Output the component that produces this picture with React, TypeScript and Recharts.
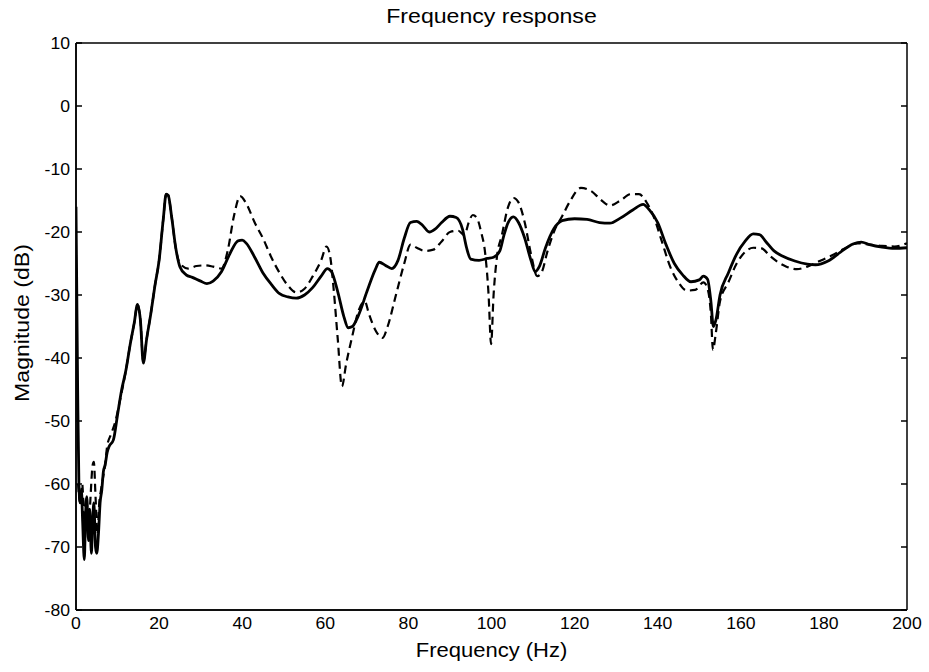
import React from "react";
import { LineChart, Line, XAxis, YAxis } from "recharts";

// measured trace (solid)
const FREQ_SOLID = [
  0, 0.4, 0.7, 1.0, 1.3, 1.6, 2.0, 2.3, 2.6, 3.0, 3.3, 3.7, 4.0, 4.3, 4.7, 5.0, 5.4, 5.8, 6.2, 6.6, 7.0, 7.5, 8.0, 9.0,
  10, 11, 12, 13, 14, 14.8, 15.5, 16.2, 17, 18, 19, 20, 21, 21.7, 22.2, 23, 24, 25, 26.5, 28, 30, 31.5, 33, 35, 37, 39,
  40, 41, 43, 45, 47, 49, 51, 53, 55, 57, 59, 60.5, 61.5, 63, 64.5, 65.5, 66.5, 68, 70, 72, 73, 74.5, 76, 77.5, 79,
  80.5, 82, 83.5, 85, 86.5, 88, 90, 91.5, 93, 94, 95, 97, 99, 100.5, 102, 103, 104, 105.3, 106.5, 108, 109.5, 110.5,
  111.5, 113, 115, 117, 120, 123, 126, 128.5, 131, 134, 136.5, 138, 140, 142, 144, 146, 148, 150, 151, 152, 152.8,
  153.4, 154, 155, 157, 159, 161, 163, 164.5, 166, 168, 170, 173, 176, 178, 181, 184, 187, 189, 191, 194, 197, 200,
];
const MAG_SOLID = [
  -16, -45, -60, -63, -61, -66, -72, -65, -62, -69, -64, -71, -66, -63, -70, -71, -68, -63, -61, -58, -57, -55, -54, -53,
  -49, -45, -42, -38, -34.5, -31.5, -34, -40.8, -37, -33, -28.5, -24.5, -18, -14, -14.2, -17.5, -22.5, -25.5, -26.8,
  -27.2, -27.8, -28.2, -27.8, -26.3, -23.5, -21.4, -21.3, -21.8, -24, -26.5, -28.3, -29.8, -30.3, -30.5, -30, -28.8,
  -27, -25.8, -26.3, -29.5, -33.5, -35.2, -35, -33.2, -29.5, -26, -24.8, -25.3, -25.8, -24.5, -21, -18.5, -18.3, -19,
  -20, -19.5, -18.5, -17.5, -17.7, -19.5, -22.5, -24.3, -24.5, -24.2, -24, -23, -20.5, -18.5, -17.6, -18.5, -21, -24.5,
  -26.3, -25.5, -22.5, -19.5, -18.2, -17.9, -18, -18.5, -18.6, -17.8, -16.5, -15.6, -16.5, -18.5, -22, -25, -26.8,
  -27.9, -27.6, -27, -27.5, -31, -35, -34, -30, -26.5, -23.5, -21.5, -20.3, -20.4, -21.5, -23, -23.8, -24.6, -25.1,
  -25.2, -24.6, -23.2, -21.9, -21.6, -22, -22.4, -22.6, -22.5,
];

// model trace (dashed)
const FREQ_DASHED = [
  0.5, 1.0, 1.5, 2.0, 2.5, 3.0, 3.5, 4.0, 4.3, 4.7, 5.2, 5.6, 6.0, 6.5, 7.0, 7.5, 8.5, 9.5, 10.5, 12, 13, 14, 14.8,
  15.5, 16.2, 17, 18, 19, 20, 21, 21.7, 22.2, 23, 24, 25, 27, 29, 31, 33, 35, 36.5, 38, 39.5, 41, 43, 45, 47, 49, 51,
  53, 55, 57, 59, 60.3, 61.2, 62, 63, 64, 65, 66.5, 68, 69.5, 70.5, 72, 73.8, 75, 77, 79, 80.5, 82, 84, 86, 88, 90, 92,
  93.5, 94.5, 95.5, 96.5, 97.5, 98.5, 99.3, 99.9, 100.5, 101.3, 102.5, 104, 105.3, 106.5, 108, 109.5, 111, 112, 113.5,
  115, 117, 119, 121.5, 124, 126.5, 128.5, 131, 133.5, 135.5, 137.5, 139, 141, 143, 145, 147, 149, 151, 152, 152.8,
  153.3, 154, 155, 157, 159, 161, 163, 165, 167, 169, 171, 173.5, 176, 179, 182, 185, 188, 191, 194, 197, 200,
];
const MAG_DASHED = [
  -60, -63, -60, -66, -62, -68, -62, -57, -56.5, -62, -68, -63, -61, -59, -57, -54, -52, -50, -47, -42, -38, -34.5,
  -31.5, -34, -40.5, -37, -33, -28.5, -24.5, -18, -14, -14.2, -17.5, -22.5, -25, -25.8, -25.4, -25.3, -25.5, -25.8,
  -23, -17.5, -14.3, -15.5, -18.5, -21, -24, -26.5, -28.5, -29.6, -29, -27, -24.5, -22.3, -24, -29, -37, -44.5, -41,
  -36.5, -32.5, -31, -33, -35.5, -36.8, -35, -30, -25, -22, -22.5, -23, -22.8, -21.5, -20, -19.8, -20.5, -18.5, -17.3,
  -17.8, -20, -23.5, -30, -37.8, -30, -24, -20.5, -16, -14.6, -15.3, -18.5, -23.5, -27, -26.5, -23, -20, -17.5, -15,
  -13, -13.5, -15, -15.8, -15, -14, -14, -15.5, -17.5, -21.5, -25.5, -28, -29.3, -29.2, -28, -29, -33, -38.7, -36, -31,
  -28, -25, -23.2, -22.5, -22.6, -23.8, -24.8, -25.5, -25.9, -25.5, -24.6, -23.7, -22.6, -21.8, -22, -22.2, -22.3,
  -21.8,
];

const X_TICKS = [0, 20, 40, 60, 80, 100, 120, 140, 160, 180, 200];
const Y_TICKS = [-80, -70, -60, -50, -40, -30, -20, -10, 0, 10];

const solidData = FREQ_SOLID.map((f, i) => ({ f, v: MAG_SOLID[i] }));
const dashedData = FREQ_DASHED.map((f, i) => ({ f, v: MAG_DASHED[i] }));

const FONT = "'Liberation Sans', Arial, Helvetica, sans-serif";
const STRETCH = 1.1; // the original lettering is a little wider than Arial

const XTick = (props: any) => {
  const { x, y, payload } = props;
  return (
    <g transform={`translate(${x},${y})`}>
      <text
        transform={`scale(${STRETCH},1)`}
        textAnchor="middle"
        dy="0.71em"
        fill="#000"
        fontSize={16}
        fontFamily={FONT}
      >
        {payload.value}
      </text>
    </g>
  );
};

const YTick = (props: any) => {
  const { x, y, payload } = props;
  return (
    <g transform={`translate(${x},${y})`}>
      <text
        transform={`scale(${STRETCH},1)`}
        textAnchor="end"
        dy="0.36em"
        fill="#000"
        fontSize={16}
        fontFamily={FONT}
      >
        {payload.value}
      </text>
    </g>
  );
};

const blank = () => "";

export default function App() {
  return (
    <div style={{ position: "absolute", left: 0, top: 0, width: 929, height: 672, background: "#fff" }}>
      <LineChart width={929} height={672} margin={{ top: 43, right: 22, bottom: 22, left: 16 }}>
        {/* labelled axes */}
        <XAxis
          dataKey="f"
          type="number"
          domain={[0, 200]}
          ticks={X_TICKS}
          allowDataOverflow
          height={40}
          tickSize={0}
          tickMargin={8}
          tickLine={false}
          tick={<XTick />}
          stroke="#000"
          strokeWidth={1.5}
        />
        <YAxis
          type="number"
          domain={[-80, 10]}
          ticks={Y_TICKS}
          allowDataOverflow
          width={60}
          tickSize={0}
          tickMargin={6}
          tickLine={false}
          tick={<YTick />}
          stroke="#000"
          strokeWidth={1.5}
        />
        {/* inward ticks on all four sides */}
        <XAxis
          xAxisId="bottomIn"
          type="number"
          domain={[0, 200]}
          ticks={X_TICKS}
          allowDataOverflow
          mirror
          tickSize={6}
          tickFormatter={blank}
          stroke="#000"
          strokeWidth={1.5}
        />
        <XAxis
          xAxisId="topIn"
          orientation="top"
          type="number"
          domain={[0, 200]}
          ticks={X_TICKS}
          allowDataOverflow
          mirror
          tickSize={6}
          tickFormatter={blank}
          stroke="#000"
          strokeWidth={1.5}
        />
        <YAxis
          yAxisId="leftIn"
          type="number"
          domain={[-80, 10]}
          ticks={Y_TICKS}
          allowDataOverflow
          mirror
          tickSize={6}
          tickFormatter={blank}
          stroke="#000"
          strokeWidth={1.5}
        />
        <YAxis
          yAxisId="rightIn"
          orientation="right"
          type="number"
          domain={[-80, 10]}
          ticks={Y_TICKS}
          allowDataOverflow
          mirror
          tickSize={6}
          tickFormatter={blank}
          stroke="#000"
          strokeWidth={1.5}
        />
        <Line
          data={dashedData}
          dataKey="v"
          type="monotone"
          stroke="#000"
          strokeWidth={2.2}
          strokeDasharray="8 5"
          dot={false}
          isAnimationActive={false}
        />
        <Line
          data={solidData}
          dataKey="v"
          type="monotone"
          stroke="#000"
          strokeWidth={2.8}
          dot={false}
          isAnimationActive={false}
        />
      </LineChart>
      <svg
        width={929}
        height={672}
        style={{ position: "absolute", left: 0, top: 0, pointerEvents: "none" }}
        fontFamily={FONT}
        fill="#000"
      >
        <g transform="translate(491.5,23)">
          <text transform={`scale(${STRETCH},1)`} textAnchor="middle" fontSize={21}>
            Frequency response
          </text>
        </g>
        <g transform="translate(491.5,657)">
          <text transform={`scale(${STRETCH},1)`} textAnchor="middle" fontSize={20}>
            Frequency (Hz)
          </text>
        </g>
        <g transform="translate(29,323) rotate(-90)">
          <text transform={`scale(${STRETCH},1)`} textAnchor="middle" fontSize={21}>
            Magnitude (dB)
          </text>
        </g>
      </svg>
    </div>
  );
}
